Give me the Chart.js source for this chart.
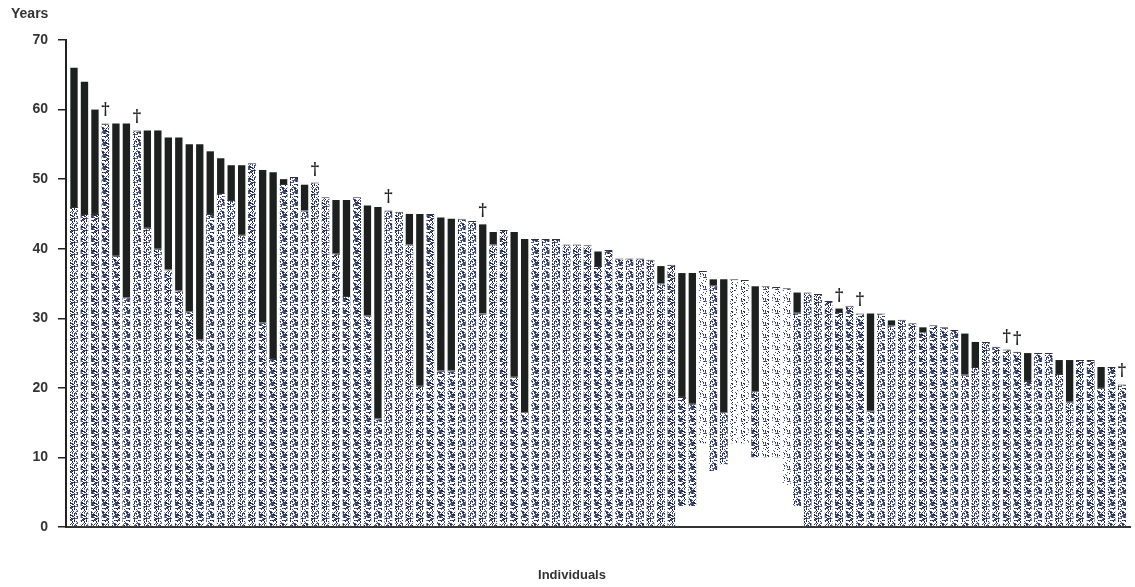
<!DOCTYPE html>
<html>
<head>
<meta charset="utf-8">
<script src="https://cdn.jsdelivr.net/npm/chart.js@4.4.1/dist/chart.umd.min.js"></script>
<style>
  html, body { margin: 0; padding: 0; background: #fff; }
  #wrap { width: 1135px; height: 587px; }
</style>
</head>
<body>
<div id="wrap"><canvas id="ageChart" width="1135" height="587"></canvas></div>
<script>
/* Age of each individual (bar top) and age at onset (black part runs onset -> age) */
const ages = [
  66, 64, 60, 58, 58, 58, 57, 57, 57, 56, 56, 55, 55, 54, 53, 52, 52, 52.3, 51.3, 51,
  50, 50.3, 49.2, 49.5, 47.4, 47, 47, 47.4, 46.2, 46, 45.5, 45.3, 45, 45, 45, 44.5, 44.3, 44.3, 44, 43.5,
  42.4, 42.7, 42.4, 41.4, 41.4, 41.4, 41.4, 40.6, 40.6, 40.5, 39.6, 39.8, 38.6, 38.6, 38.6, 38.4, 37.5, 37.7, 36.5, 36.5,
  36.8, 35.6, 35.6, 35.6, 35.5, 34.6, 34.6, 34.5, 34.3, 33.7, 33.7, 33.5, 32.5, 31.4, 31.8, 30.7, 30.7, 30.7, 29.7, 29.8,
  29.3, 28.7, 29, 28.7, 28.3, 27.8, 26.6, 26.6, 25.9, 25.5, 25.2, 25, 25, 25, 24, 24, 24, 24, 23, 23,
  20.5
];
const onsets = [
  46, 45, 45, 58, 39, 33, 57, 43, 40, 37, 34, 31, 27, 45, 48, 47, 42, 52.3, 29.4, 24.3,
  49.3, 50.3, 45.5, 49.5, 47.4, 39.3, 33.2, 47.4, 30.4, 15.6, 45.5, 45.3, 40.6, 20.3, 45, 22.5, 22.5, 44.3, 44, 30.7,
  40.6, 42.7, 21.6, 16.5, 41.4, 41.4, 41.4, 40.6, 40.6, 40.5, 37.5, 39.8, 38.6, 38.6, 38.6, 38.4, 35, 37.7, 18.7, 17.7,
  36.8, 34.7, 16.5, 35.6, 35.5, 19.5, 34.6, 34.5, 34.3, 30.8, 33.7, 33.5, 32.5, 30.9, 31.8, 30.7, 16.7, 30.7, 29, 29.8,
  29.3, 28, 29, 28.7, 28.3, 21.9, 23, 26.6, 25.9, 25.5, 25.2, 21, 25, 25, 22, 18, 24, 24, 20, 23,
  20.5
];
/* where the dotted part starts (most go down to 0) */
const stippleFrom = [
  0, 0, 0, 0, 0, 0, 0, 0, 0, 0, 0, 0, 0, 0, 0, 0, 0, 0, 0, 0,
  0, 0, 0, 0, 0, 0, 0, 0, 0, 0, 0, 0, 0, 0, 0, 0, 0, 0, 0, 0,
  0, 0, 0, 0, 0, 0, 0, 0, 0, 0, 0, 0, 0, 0, 0, 0, 0, 0, 3, 3,
  12, 8, 9, 12, 12, 10, 10, 10, 6, 3, 0, 0, 0, 0, 0, 0, 0, 0, 0, 0,
  0, 0, 0, 0, 0, 0, 0, 0, 0, 0, 0, 0, 0, 0, 0, 0, 0, 0, 0, 0,
  0
];
const faint = [61, 64, 65, 67, 68, 69];
const deceased = [4, 7, 24, 31, 40, 74, 76, 90, 91, 101];
const yTicks = [0, 10, 20, 30, 40, 50, 60, 70];

const ids = ages.map((a, i) => i + 1);

// fixed dot texture (hashed tile) standing in for the scanned stipple
function makeStipple(keep) {
  const S = 12;
  const c = document.createElement('canvas');
  c.width = S; c.height = S;
  const g = c.getContext('2d');
  g.fillStyle = '#fff';
  g.fillRect(0, 0, S, S);
  for (let x = 0; x < S; x++) {
    for (let y = 0; y < S; y++) {
      const h = ((x * 374761 + y * 668265) ^ (x * y * 2246822)) >>> 0;
      const k = (h ^ (h >>> 7)) % 17;
      if (k < keep) {
        g.fillStyle = k % 3 === 0 ? '#1b244c' : (k % 3 === 1 ? '#34406e' : '#56628c');
        g.fillRect(x, y, 1, 1);
      }
    }
  }
  return g.createPattern(c, 'repeat');
}
const DENSE = makeStipple(9);
const SPARSE = makeStipple(3);

const labels = {
  id: 'labels',
  afterDatasetsDraw(chart) {
    const { ctx, scales: { x, y } } = chart;
    ctx.save();
    ctx.fillStyle = '#222';
    ctx.textAlign = 'center';
    ctx.textBaseline = 'alphabetic';
    ctx.font = 'bold 16px "DejaVu Serif"';
    deceased.forEach(n => {
      ctx.fillText('\u2020', x.getPixelForValue(n), y.getPixelForValue(ages[n - 1]) - 9);
    });
    ctx.fillStyle = '#333';
    ctx.textBaseline = 'middle';
    ctx.font = 'bold 13px "Liberation Sans"';
    ctx.fillText('Individuals', 572, 575);
    ctx.textAlign = 'left';
    ctx.font = 'bold 14px "Liberation Sans"';
    ctx.fillText('Years', 11, 14);
    ctx.restore();
  }
};

new Chart(document.getElementById('ageChart'), {
  type: 'bar',
  data: {
    datasets: [
      {
        label: 'before onset',
        data: ids.map(n => ({ x: n, y: [stippleFrom[n - 1], onsets[n - 1]] })),
        backgroundColor: ctx => faint.includes(ctx.raw && ctx.raw.x) ? SPARSE : DENSE,
        borderColor: '#333',
        borderWidth: { top: 1, left: 0, right: 0, bottom: 0 },
        borderSkipped: 'start',
        grouped: false,
        barPercentage: 0.78,
        categoryPercentage: 1
      },
      {
        label: 'after onset',
        data: ids.map(n => ({ x: n, y: onsets[n - 1] < ages[n - 1] ? [onsets[n - 1], ages[n - 1]] : null })),
        backgroundColor: '#1c211f',
        borderWidth: 0,
        grouped: false,
        barPercentage: 0.7,
        categoryPercentage: 1
      }
    ]
  },
  options: {
    responsive: false,
    animation: false,
    layout: { padding: { top: 40, right: 5, bottom: 52, left: 0 } },
    plugins: { legend: { display: false }, tooltip: { enabled: false } },
    scales: {
      x: {
        type: 'linear',
        offset: false,
        min: 0.237,
        max: 101.76,
        grid: { display: false },
        ticks: { display: false },
        border: { display: true, color: '#333', width: 2 }
      },
      y: {
        min: 0,
        max: 70,
        afterBuildTicks: s => { s.ticks = yTicks.map(v => ({ value: v })); },
        afterFit: s => { s.width = 66; },
        grid: { drawOnChartArea: false, drawTicks: true, tickLength: 8, color: '#222', lineWidth: 1.5 },
        border: { display: true, color: '#222', width: 2 },
        ticks: {
          color: '#333',
          padding: 10,
          font: { family: 'Liberation Sans', size: 14, weight: 'bold' }
        }
      }
    }
  },
  plugins: [labels]
});
</script>
</body>
</html>
